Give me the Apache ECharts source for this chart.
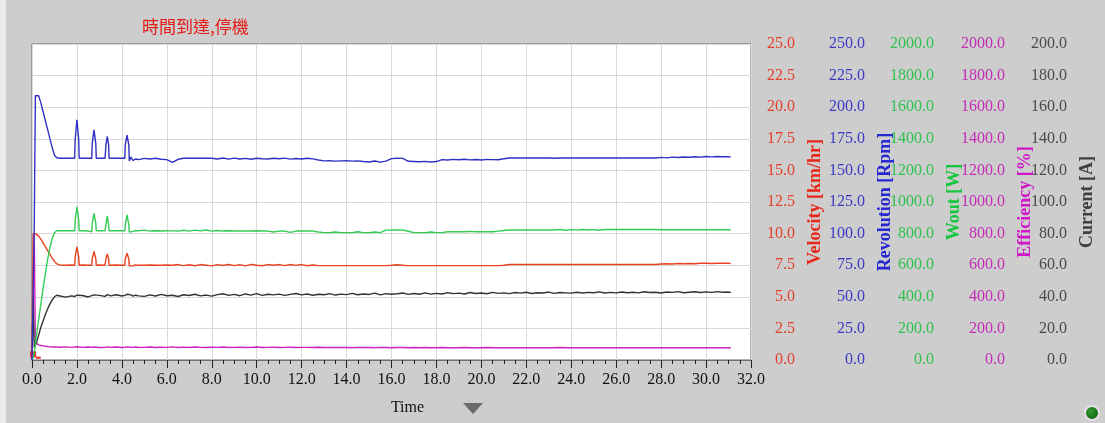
<!DOCTYPE html>
<html>
<head>
<meta charset="utf-8">
<script src="https://cdn.jsdelivr.net/npm/echarts/dist/echarts.min.js"></script>
<style>
  html, body { margin: 0; padding: 0; background: #cdcdcd; }
  #chart { width: 1105px; height: 423px; }
</style>
</head>
<body>
<div id="chart"></div>
<script>
// Sample times [s]: dense through start-up and the four load pulses, then every 0.25 s
const time = [
  0, 0.05, 0.1, 0.15, 0.2, 0.3, 0.4, 0.5, 0.6, 0.7,
  0.8, 0.9, 1.0, 1.1, 1.25, 1.5, 1.75, 1.9, 1.92, 2.0,
  2.08, 2.1, 2.25, 2.5, 2.66, 2.68, 2.76, 2.84, 2.86, 3.0,
  3.25, 3.27, 3.29, 3.35, 3.41, 3.43, 3.5, 3.75, 4.0, 4.13,
  4.15, 4.23, 4.31, 4.33, 4.4, 4.5, 4.6, 4.75,
  5, 5.25, 5.5, 5.75, 6, 6.25, 6.5, 6.75,
  7, 7.25, 7.5, 7.75, 8, 8.25, 8.5, 8.75,
  9, 9.25, 9.5, 9.75, 10, 10.25, 10.5, 10.75,
  11, 11.25, 11.5, 11.75, 12, 12.25, 12.5, 12.75,
  13, 13.25, 13.5, 13.75, 14, 14.25, 14.5, 14.75,
  15, 15.25, 15.5, 15.75, 16, 16.25, 16.5, 16.75,
  17, 17.25, 17.5, 17.75, 18, 18.25, 18.5, 18.75,
  19, 19.25, 19.5, 19.75, 20, 20.25, 20.5, 20.75,
  21, 21.25, 21.5, 21.75, 22, 22.25, 22.5, 22.75,
  23, 23.25, 23.5, 23.75, 24, 24.25, 24.5, 24.75,
  25, 25.25, 25.5, 25.75, 26, 26.25, 26.5, 26.75,
  27, 27.25, 27.5, 27.75, 28, 28.25, 28.5, 28.75,
  29, 29.25, 29.5, 29.75, 30, 30.25, 30.5, 30.75,
  31, 31.1
];

// Velocity [km/hr]
const velocity = [
  0, 10.0, 10.0, 10.0, 9.95, 9.8, 9.55, 9.25, 8.95, 8.65,
  8.35, 8.05, 7.8, 7.6, 7.52, 7.5, 7.52, 7.5, 8.15, 8.95,
  8.15, 7.5, 7.52, 7.5, 7.5, 8.0, 8.6, 8.0, 7.5, 7.52,
  7.5, 7.5, 8.0, 8.4, 8.0, 7.5, 7.5, 7.52, 7.5, 7.5,
  8.0, 8.45, 8.0, 7.45, 7.55, 7.45, 7.52, 7.5,
  7.5, 7.52, 7.5, 7.5, 7.51, 7.5, 7.55, 7.47,
  7.54, 7.46, 7.55, 7.5, 7.45, 7.55, 7.48, 7.56,
  7.47, 7.55, 7.45, 7.56, 7.5, 7.46, 7.55, 7.5,
  7.55, 7.47, 7.56, 7.49, 7.55, 7.46, 7.52, 7.47,
  7.47, 7.47, 7.47, 7.47, 7.47, 7.47, 7.47, 7.47,
  7.47, 7.47, 7.47, 7.47, 7.5, 7.54, 7.5, 7.47,
  7.47, 7.47, 7.47, 7.47, 7.47, 7.47, 7.47, 7.47,
  7.47, 7.47, 7.47, 7.47, 7.47, 7.47, 7.47, 7.47,
  7.5, 7.55, 7.55, 7.55, 7.55, 7.55, 7.55, 7.55,
  7.55, 7.55, 7.55, 7.55, 7.55, 7.55, 7.55, 7.55,
  7.55, 7.55, 7.55, 7.55, 7.55, 7.55, 7.55, 7.55,
  7.55, 7.55, 7.55, 7.55, 7.6, 7.62, 7.6, 7.63,
  7.61, 7.64, 7.62, 7.65, 7.66, 7.64, 7.66, 7.65,
  7.65, 7.62
];

// Revolution [Rpm]
const revolution = [
  0, 0, 105, 209, 210, 209, 203, 196, 189, 182,
  175, 168, 162, 160, 159.6, 159.6, 159.6, 159.6, 174, 190,
  174, 159.6, 159.6, 159.6, 159.6, 171, 182, 171, 159.6, 159.6,
  159.6, 159.6, 170, 177, 170, 159.6, 159.6, 159.6, 159.6, 159.6,
  170, 178, 170, 157.5, 160.5, 157.8, 159, 158.5,
  159.5, 159, 159.6, 158.8, 158.5, 156.3, 158.8, 159.6,
  159.6, 159.6, 159.6, 159.6, 159.6, 159.0, 159.8, 158.9,
  159.7, 159.0, 159.5, 158.8, 159.6, 159.2, 159.0, 159.6,
  159.2, 159.7, 158.9, 159.4, 159.0, 159.6, 159.1, 158.2,
  157.5, 157.6, 157.3, 157.5, 157.6, 157.3, 157.5, 157.0,
  156.6, 157.4, 156.5, 157.3, 159.3, 159.6, 159.5, 157.2,
  157.0, 156.8, 157.1, 156.7, 157.0, 158.5, 158.2, 158.7,
  158.4, 158.8, 158.3, 158.6, 158.2, 158.7, 158.5, 158.4,
  159.2, 159.8, 159.8, 159.8, 159.8, 159.8, 159.8, 159.8,
  159.8, 159.6, 159.8, 159.8, 159.8, 159.8, 159.8, 159.8,
  159.8, 159.8, 159.8, 159.8, 159.8, 159.8, 159.8, 159.8,
  159.8, 159.8, 159.8, 159.8, 160.3, 159.9, 160.5, 160.2,
  160.6, 160.4, 160.8, 160.5, 161.0, 160.7, 161.0, 160.8,
  160.9, 160.5
];

// Wout [W]
const wout = [
  0, 0, 40, 100, 160, 260, 360, 460, 550, 640,
  715, 770, 805, 818, 818, 818, 818, 818, 885, 970,
  885, 818, 818, 816, 812, 865, 928, 865, 818, 818,
  818, 818, 855, 912, 855, 818, 818, 818, 818, 818,
  855, 918, 855, 810, 822, 814, 818, 818,
  822, 816, 818, 816, 818, 817, 816, 821,
  816, 822, 817, 823, 816, 820, 816, 818,
  816, 817, 816, 816, 818, 816, 816, 810,
  816, 816, 808, 816, 816, 816, 816, 810,
  806, 806, 810, 806, 806, 806, 812, 806,
  806, 810, 806, 822, 823, 823, 823, 815,
  806, 806, 806, 810, 806, 806, 812, 812,
  812, 812, 814, 812, 812, 812, 812, 816,
  820, 823, 823, 823, 823, 823, 823, 823,
  823, 823, 826, 821, 825, 822, 826, 823,
  825, 821, 826, 826, 826, 826, 826, 826,
  826, 826, 826, 826, 824, 824, 824, 824,
  824, 824, 824, 824, 824, 824, 824, 824,
  824, 824
];

// Efficiency [%]
const efficiency = [
  0, 0, 800, 110, 100, 96, 92, 89, 86, 85,
  83, 82, 82, 82, 81, 83, 80, 82, 82, 84,
  82, 81, 80, 82, 80, 80, 82, 81, 81, 79,
  81, 81, 81, 83, 81, 81, 80, 82, 79, 81,
  81, 83, 81, 80, 81, 80, 82, 80,
  80, 82, 79, 81, 80, 83, 79, 81,
  80, 82, 80, 79, 81, 80, 82, 79,
  80, 81, 79, 80, 82, 79, 80, 81,
  79, 80, 81, 79, 80, 80, 79, 81,
  79, 80, 79, 80, 79, 78, 80, 79,
  79, 78, 80, 79, 78, 79, 79, 78,
  79, 78, 79, 78, 78, 79, 78, 78,
  78, 79, 78, 78, 78, 79, 78, 78,
  78, 78, 78, 78, 78, 78, 78, 78,
  78, 78, 79, 78, 78, 78, 78, 78,
  78, 78, 78, 78, 78, 78, 78, 78,
  78, 78, 78, 78, 78, 78, 78, 78,
  78, 78, 78, 78, 78, 78, 78, 78,
  78, 78
];

// Current [A]
const current = [
  0, 40, 8, 9, 11, 16, 21, 25, 29, 32.5,
  35.5, 38, 40, 41, 40.5, 39.8, 40.6, 40.2, 40.2, 41,
  40.3, 40, 40.8, 39.9, 40.7, 40.7, 41.2, 40.5, 40.5, 40.9,
  40.3, 40.3, 40.8, 41.4, 40.9, 40.9, 40.6, 41.3, 40.5, 40.9,
  40.9, 41.6, 40.8, 40.8, 41.2, 40.4, 41.0, 40.6,
  40.3, 41.2, 40.5, 41.5, 40.7, 41.0, 40.2, 41.3,
  40.8, 41.6, 40.6, 41.1, 40.4, 41.4, 41.9, 40.9,
  41.5, 40.7, 41.8, 41.1, 42.0, 40.9, 41.6, 41.2,
  41.7, 40.9, 41.5, 42.1, 41.2, 41.8, 41.0, 41.6,
  41.3, 42.0, 41.1, 41.7, 41.4, 42.2, 41.3, 41.8,
  41.5, 42.3, 41.2, 42.0, 41.6, 41.9, 42.4, 41.5,
  42.1, 41.6, 42.5, 41.7, 42.2, 41.8, 42.6, 42.0,
  42.3, 41.8, 42.7, 42.1, 42.4, 41.9, 42.8, 42.2,
  42.5, 42.0, 42.7, 42.3, 42.9, 42.1, 42.6, 42.4,
  43.0, 42.2, 42.7, 42.5, 42.3, 42.9, 42.4, 42.8,
  42.6, 43.1, 42.4, 42.8, 42.5, 43.0, 42.6, 42.9,
  42.5, 43.2, 42.7, 42.9, 42.4, 43.0, 42.8, 43.3,
  42.6, 42.9, 43.2, 42.7, 43.1, 42.8, 43.3, 42.9,
  43.0, 42.7
];

// Full-scale value of each right-hand axis (ten divisions each)
const axisMax = [25, 250, 2000, 2000, 200];
const axisNames = ['Velocity [km/hr]', 'Revolution [Rpm]', 'Wout [W]', 'Efficiency [%]', 'Current [A]'];
const timeMax = 32;
const titleText = '時間到達,停機';
const timeLabel = 'Time';

const SERIF = 'Liberation Serif';

const lineColors  = ['#e8421e', '#3030c4', '#34cc55', '#cc22bf', '#333333'];
const nameColors  = ['#e8281a', '#2626d2', '#16c63e', '#d016c6', '#404040'];
const labelColors = ['#e4402c', '#3a3ac4', '#30c250', '#c42cb6', '#4a4a4a'];
const labelMargins = [44, 114, 183, 254, 316];
const nameGaps = [52, 121, 191, 261, 323];

const fmt1 = v => v.toFixed(1);

const yAxes = axisMax.map((max, i) => ({
  type: 'value',
  position: 'right',
  offset: 0,
  min: 0,
  max: max,
  interval: max / 10,
  name: axisNames[i],
  nameLocation: 'middle',
  nameRotate: 90,
  nameGap: nameGaps[i],
  nameTextStyle: { color: nameColors[i], fontFamily: SERIF, fontWeight: 'bold', fontSize: 18 },
  axisLine: { show: false },
  axisTick: { show: false },
  axisLabel: {
    margin: labelMargins[i], align: 'right', color: labelColors[i],
    fontFamily: SERIF, fontSize: 16, formatter: fmt1
  },
  splitLine: { show: i === 0, lineStyle: { color: '#d9d9d9', width: 1 } }
}));

const seriesValues = [velocity, revolution, wout, efficiency, current];
// drawing order: magenta and black underneath, blue on top
const drawOrder = [3, 4, 0, 2, 1];

const series = drawOrder.map((i, k) => {
  const s = {
    name: axisNames[i],
    type: 'line',
    yAxisIndex: i,
    data: time.map((t, j) => [t, seriesValues[i][j]]),
    showSymbol: false,
    symbol: 'none',
    lineStyle: { color: lineColors[i], width: 1.4 },
    itemStyle: { color: lineColors[i] },
    z: 2 + k,
    animation: false
  };
  if (i === 0) {
    // start cursor at the origin
    s.markPoint = {
      silent: true,
      animation: false,
      label: { show: false },
      data: [
        { coord: [0.05, 0.45], symbol: 'rect', symbolSize: 6, itemStyle: { color: '#e82a20' } },
        { coord: [0.28, 0.18], symbol: 'rect', symbolSize: [5, 2], itemStyle: { color: '#e82a20' } }
      ]
    };
  }
  return s;
});

const chart = echarts.init(document.getElementById('chart'), null, { renderer: 'canvas' });
chart.setOption({
  backgroundColor: '#cdcdcd',
  animation: false,
  title: {
    text: titleText,
    left: 142,
    top: 18,
    padding: 0,
    textStyle: { color: '#e41b17', fontSize: 17, fontWeight: 'normal', fontFamily: 'Noto Sans CJK TC' }
  },
  grid: {
    left: 32, right: 354, top: 44, bottom: 63,
    show: true, backgroundColor: '#ffffff', borderColor: '#666666', borderWidth: 1
  },
  xAxis: {
    type: 'value',
    min: 0,
    max: timeMax,
    interval: 2,
    name: timeLabel,
    nameLocation: 'middle',
    nameGap: 40,
    nameTextStyle: { color: '#111', fontFamily: SERIF, fontSize: 16, padding: [0, 0, 0, 32] },
    axisLine: { show: true, onZero: false, lineStyle: { color: '#707070' } },
    axisTick: { show: true, length: 8, lineStyle: { color: '#222' } },
    minorTick: { show: true, splitNumber: 4, length: 4, lineStyle: { color: '#222' } },
    axisLabel: { margin: 12, color: '#111', fontFamily: SERIF, fontSize: 16, formatter: fmt1 },
    splitLine: { show: true, lineStyle: { color: '#d9d9d9', width: 1 } }
  },
  yAxis: yAxes,
  series: series,
  graphic: [
    { type: 'rect', shape: { x: 0, y: 0, width: 6, height: 423 }, style: { fill: '#ebebeb' }, silent: true },
    { type: 'polygon', shape: { points: [[463, 403], [483, 403], [473, 414]] }, style: { fill: '#6c6c6c' }, silent: true },
    {
      type: 'circle', shape: { cx: 1092, cy: 413, r: 7 },
      style: {
        fill: new echarts.graphic.RadialGradient(0.4, 0.4, 0.7, [
          { offset: 0, color: '#2f9a2f' }, { offset: 1, color: '#0a560a' }
        ]),
        stroke: '#e6dde6', lineWidth: 2
      },
      silent: true
    }
  ]
});
</script>
</body>
</html>
